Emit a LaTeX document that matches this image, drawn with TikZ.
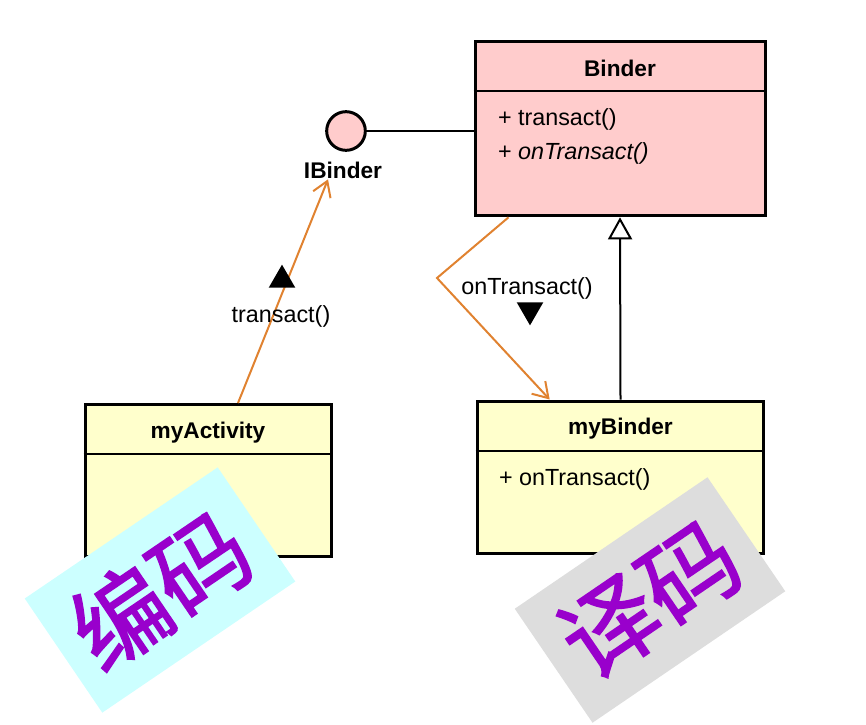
\documentclass[tikz,border=0pt]{standalone}
\usepackage{fontspec}
\setmainfont{Liberation Sans}
\newfontfamily\cjk{Noto Sans CJK SC}[FakeBold=1.5]
\usetikzlibrary{calc, arrows.meta, shapes.geometric}
\definecolor{PinkFill}{HTML}{FFCCCC}
\definecolor{YellowFill}{HTML}{FFFFCC}
\definecolor{CyanFill}{HTML}{CCFFFF}
\definecolor{GreyFill}{HTML}{DDDDDD}
\definecolor{TagText}{HTML}{9900CC}
\definecolor{CallLine}{RGB}{224,130,48}
\newcommand{\Px}{0.75pt}
\newcommand{\TitleFont}{\fontsize{17}{20}\selectfont\bfseries}
\newcommand{\MemberFont}{\fontsize{17.5}{20}\selectfont}
\tikzset{PinkClass/.style={
    draw=black,
    line width=2.25pt,
    fill=PinkFill,
    inner sep=0pt,
    minimum width=217.5pt,
    minimum height=131pt
    }
}
\tikzset{YellowClass/.style={
    draw=black,
    line width=2.25pt,
    fill=YellowFill,
    inner sep=0pt,
    minimum height=114pt
    }
}
\tikzset{Title/.style={
    inner sep=0pt,
    font=\TitleFont
    }
}
\tikzset{Member/.style={
    inner sep=0pt,
    anchor=west,
    font=\MemberFont
    }
}
\tikzset{CyanTag/.style={
    fill=CyanFill,
    text=TagText,
    inner sep=0pt,
    minimum width=175pt,
    minimum height=103.5pt,
    font=\cjk\fontsize{72}{78}\selectfont
    }
}
\tikzset{GreyTag/.style={
    CyanTag,
    fill=GreyFill
    }
}
\tikzset{Call/.style={
    draw=CallLine,
    line width=1.5pt,
    -{Straight Barb[length=11pt, width=14pt]}
    }
}
\tikzset{Marker/.style={
    regular polygon,
    regular polygon sides=3,
    fill=black,
    inner sep=0pt,
    minimum size=23pt
    }
}

\begin{document}
\begin{tikzpicture}[x=\Px, y=-\Px, line width=1.5pt]
    \useasboundingbox (0,0) rectangle (866,724);

    % classes
    \node (Binder) [PinkClass] at (620,128.5) {};
    \node (BinderT) [Title] at (620,68) {Binder};
    \draw (Binder.north west) ++(0,51) coordinate (b1) -- (b1 -| Binder.east);
    \node (BinderM1) [Member] at (497,119) {+ transact()};
    \node (BinderM2) [Member] at (497,153) {+ \textit{onTransact()}};

    \node (myActivity) [YellowClass, minimum width=184.5pt] at (208,480.5) {};
    \node (myActivityT) [Title] at (208,433) {myActivity};
    \draw (myActivity.north west) ++(0,51) coordinate (a1) -- (a1 -| myActivity.east);

    \node (myBinder) [YellowClass, minimum width=215pt] at (620.5,477) {};
    \node (myBinderT) [Title] at (620.5,429) {myBinder};
    \draw (myBinder.north west) ++(0,51) coordinate (m1) -- (m1 -| myBinder.east);
    \node (myBinderM1) [Member] at (498,479) {+ onTransact()};

    % interface lollipop
    \node (IBinder) [circle, draw=black, line width=2.25pt, fill=PinkFill, minimum size=29pt, inner sep=0pt] at (346,131) {};
    \node (IBinderT) [Title] at (343,170) {IBinder};
    \draw (IBinder.east) -- (IBinder.east -| Binder.west);

    % inheritance
    \draw [-{Triangle[open, length=16.5pt, width=18pt]}, fill=white] (myBinder.north) -- (Binder.south);

    % calls
    \draw [Call] ($(myActivity.north)+(30,0)$) -- ($(IBinderT.south)+(-15,0)$);
    \node (up) [Marker] at (282,280) {};
    \node (transact) [font=\MemberFont, inner sep=0pt] at (281,316) {transact()};

    \coordinate (bend) at (437,278);
    \draw [Call] ($(Binder.south west)+(35,0)$) -- (bend) -- ($(myBinder.north west)+(74,0)$);
    \node (down) [Marker, shape border rotate=180] at (530,310) {};
    \node (onTransact) [font=\MemberFont, inner sep=0pt] at (527,288) {onTransact()};

    % tags
    \node (encode) [CyanTag, rotate=34.2] at (160,590) {编码};
    \node (decode) [GreyTag, rotate=34.3] at (650,600) {译码};
\end{tikzpicture}
\end{document}
